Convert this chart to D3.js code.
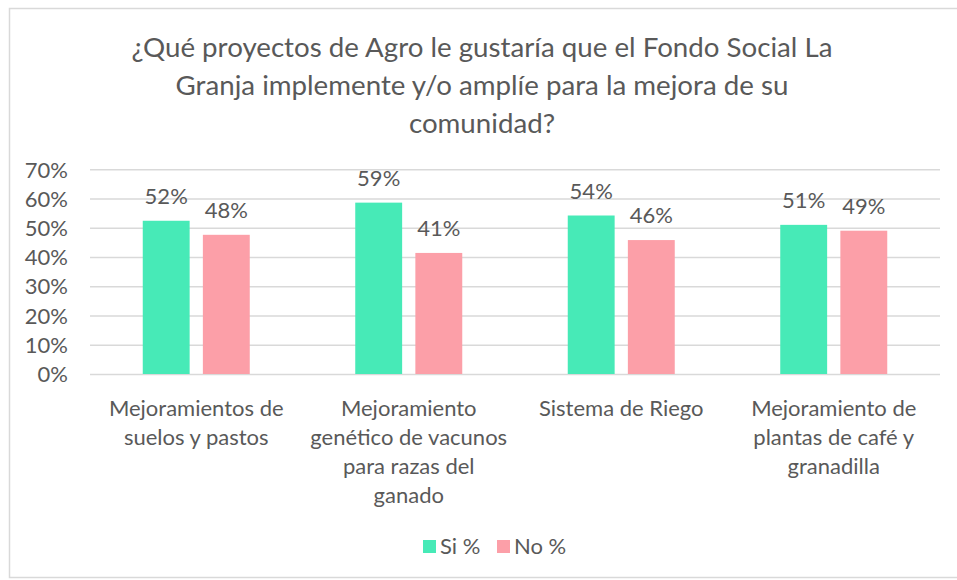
<!DOCTYPE html>
<html><head><meta charset="utf-8">
<script src="https://cdn.jsdelivr.net/npm/d3@7"></script>
<style>body{margin:0;background:#fff}svg{display:block}text{font-family:Lato,"Open Sans",sans-serif;fill:#595959}</style>
</head><body><svg id="c" width="957" height="580"></svg>
<script>
const categories = [
  ["Mejoramientos de","suelos y pastos"],
  ["Mejoramiento","genético de vacunos","para razas del","ganado"],
  ["Sistema de Riego"],
  ["Mejoramiento de","plantas de café y","granadilla"]
];
const seriesNames = ["Si %","No %"];
const siValues = [52.4, 58.6, 54.2, 51.0];
const noValues = [47.6, 41.4, 45.8, 49.0];
const yTicks = [0,10,20,30,40,50,60,70];
const titleLines = ["¿Qué proyectos de Agro le gustaría que el Fondo Social La","Granja implemente y/o amplíe para la mejora de su","comunidad?"];
const colors = ["#47EAB7","#FC9FA8"];

const svg = d3.select("#c");
svg.append("rect").attr("x",9.5).attr("y",8.5).attr("width",960).attr("height",569)
  .attr("fill","#fff").attr("stroke","#D9D9D9").attr("stroke-width",1.5);

const m = {left:90,right:940,top:169.3,bottom:374};
const x0 = d3.scaleBand().domain(d3.range(categories.length)).range([m.left,m.right]).paddingInner(0).paddingOuter(0);
const x1 = d3.scaleBand().domain([0,1]).range([x0.bandwidth()/2-53.5, x0.bandwidth()/2+53.5]).paddingInner(0.22).paddingOuter(0);
const y = d3.scaleLinear().domain([0,70]).range([m.bottom,m.top]);

// title
svg.append("text").attr("x",482).attr("text-anchor","middle").attr("font-size",27.7)
  .selectAll("tspan").data(titleLines).join("tspan").attr("x",482).attr("y",(d,i)=>57+i*38).text(d=>d);

// grid
const grid = svg.append("g").attr("transform",`translate(${m.left},0)`)
  .call(d3.axisLeft(y).tickValues(yTicks).tickSize(-(m.right-m.left)).tickFormat(d=>d+"%"));
grid.select(".domain").remove();
grid.selectAll(".tick line").attr("stroke","#D9D9D9").attr("stroke-width",1.5);
grid.selectAll(".tick text").attr("x",-22).attr("font-size",22).attr("font-family","Lato").attr("fill","#595959").attr("dy","0.35em");

// bars
const data = categories.map((c,i)=>[siValues[i],noValues[i]]);
const groups = svg.append("g").selectAll("g").data(data).join("g")
  .attr("transform",(d,i)=>`translate(${x0(i)},0)`);
groups.selectAll("rect").data(d=>d).join("rect")
  .attr("x",(d,j)=>x1(j)).attr("width",x1.bandwidth())
  .attr("y",d=>y(d)).attr("height",d=>y(0)-y(d)).attr("fill",(d,j)=>colors[j]);
groups.selectAll("text").data(d=>d).join("text")
  .attr("x",(d,j)=>x1(j)+x1.bandwidth()/2).attr("y",d=>y(d)-17)
  .attr("text-anchor","middle").attr("font-size",22).text(d=>Math.round(d)+"%");

// x labels
svg.append("g").selectAll("text").data(categories).join("text")
  .attr("text-anchor","middle").attr("font-size",22)
  .each(function(lines,i){
    d3.select(this).selectAll("tspan").data(lines).join("tspan")
      .attr("x",x0(i)+x0.bandwidth()/2).attr("y",(d,k)=>416+k*29).text(d=>d);
  });

// legend
const leg = svg.append("g");
const legX = [423,497];
seriesNames.forEach((s,i)=>{
  leg.append("rect").attr("x",legX[i]).attr("y",540).attr("width",13).attr("height",13).attr("fill",colors[i]);
  leg.append("text").attr("x",legX[i]+17).attr("y",554).attr("font-size",22).text(s);
});
</script></body></html>
